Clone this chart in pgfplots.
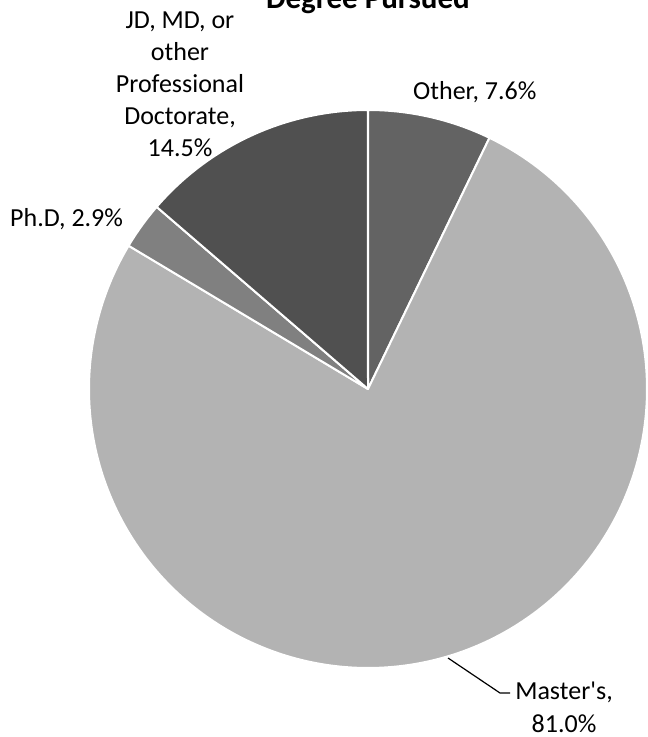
\documentclass[border=0pt]{standalone}
\usepackage{pgfplots}
\pgfplotsset{compat=1.18}
\usepackage{fontspec}
\setmainfont{Carlito}
\definecolor{cOther}{HTML}{636363}
\definecolor{cMaster}{HTML}{B3B3B3}
\definecolor{cPhd}{HTML}{808080}
\definecolor{cJD}{HTML}{505050}
% values (as labelled)
\def\vOther{7.6}
\def\vMaster{81.0}
\def\vPhd{2.9}
\def\vJD{14.5}
\pgfmathsetmacro\total{\vOther+\vMaster+\vPhd+\vJD}
\pgfmathsetmacro\aA{90}
\pgfmathsetmacro\aB{\aA-\vOther/\total*360}
\pgfmathsetmacro\aC{\aB-\vMaster/\total*360}
\pgfmathsetmacro\aD{\aC-\vPhd/\total*360}
\pgfmathsetmacro\aE{\aD-\vJD/\total*360}
\def\cx{368}
\def\cy{348}
\def\R{279}
\tikzset{lbl/.style={inner sep=0pt, font=\fontsize{26}{32}\selectfont}}
\begin{document}
\begin{tikzpicture}
\begin{axis}[
  at={(0,0)}, anchor=south west,
  width=648pt, height=737pt, scale only axis,
  xmin=0, xmax=648, ymin=0, ymax=737,
  hide axis, clip=false,
]
\addplot[fill=cOther, draw=white, line width=2pt, line join=round, domain=\aB:\aA, samples=60, variable=\t]
  ({\cx+\R*cos(\t)},{\cy+\R*sin(\t)}) -- (\cx,\cy) -- cycle;
\addplot[fill=cMaster, draw=white, line width=2pt, line join=round, domain=\aC:\aB, samples=300, variable=\t]
  ({\cx+\R*cos(\t)},{\cy+\R*sin(\t)}) -- (\cx,\cy) -- cycle;
\addplot[fill=cPhd, draw=white, line width=2pt, line join=round, domain=\aD:\aC, samples=30, variable=\t]
  ({\cx+\R*cos(\t)},{\cy+\R*sin(\t)}) -- (\cx,\cy) -- cycle;
\addplot[fill=cJD, draw=white, line width=2pt, line join=round, domain=\aE:\aD, samples=80, variable=\t]
  ({\cx+\R*cos(\t)},{\cy+\R*sin(\t)}) -- (\cx,\cy) -- cycle;
% leader line
\addplot[black, line width=1.2pt, mark=none] coordinates {(448,79) (500,44) (510,44)};
% labels
\node[inner sep=0pt, anchor=base, font=\fontsize{31}{36}\selectfont\bfseries] at (axis cs:368,728) {Degree Pursued};
\node[lbl, anchor=base west] at (axis cs:413,637) {Other, 7.6\%};
\node[lbl, anchor=base west] at (axis cs:10,510) {Ph.D, 2.9\%};
\node[lbl, anchor=base] at (axis cs:564,37) {Master\textquotesingle s,};
\node[lbl, anchor=base] at (axis cs:564,5) {81.0\%};
\node[lbl, anchor=base] at (axis cs:180,708) {JD, MD, or};
\node[lbl, anchor=base] at (axis cs:180,676) {other};
\node[lbl, anchor=base] at (axis cs:180,644) {Professional};
\node[lbl, anchor=base] at (axis cs:180,612) {Doctorate,};
\node[lbl, anchor=base] at (axis cs:180,580) {14.5\%};
\end{axis}
\pgfresetboundingbox
\useasboundingbox (0,0) rectangle (648pt,737pt);
\end{tikzpicture}
\end{document}
